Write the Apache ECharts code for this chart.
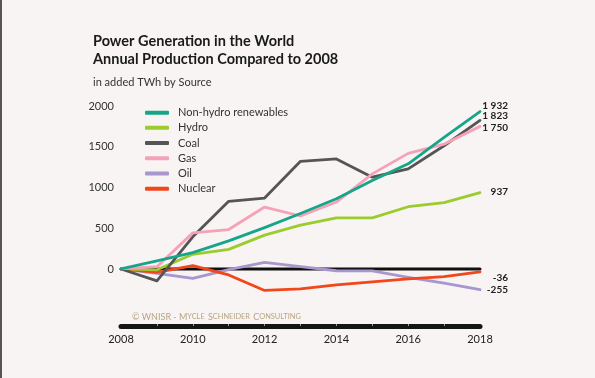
<!DOCTYPE html>
<html><head><meta charset="utf-8">
<script src="https://cdn.jsdelivr.net/npm/echarts@6/dist/echarts.min.js"></script>
<style>html,body{margin:0;padding:0;background:#f7f4f3}#c{width:595px;height:378px}</style>
</head><body><div id="c"></div>
<script>
const years = [2008,2009,2010,2011,2012,2013,2014,2015,2016,2017,2018];
const renewables = [0,100,200,345,508,680,862,1085,1290,1614,1932];
const hydro = [0,-10,180,240,415,537,626,626,764,813,937];
const coal = [0,-146,395,830,870,1321,1350,1126,1228,1512,1823];
const gas = [0,28,443,484,760,650,821,1167,1419,1532,1750];
const oil = [0,-55,-116,-8,81,28,-22,-24,-103,-175,-255];
const nuclear = [0,-42,40,-73,-264,-244,-195,-158,-122,-93,-36];
const zeroLine = [0,0,0,0,0,0,0,0,0,0,0];
const yTickLabels = [0,500,1000,1500,2000];
const xTickLabels = [2008,2010,2012,2014,2016,2018];
const endText = {renew:'1 932', hydro:'937', coal:'1 823', gas:'1 750', oil:'-255', nuclear:'-36'};

const pair = arr => arr.map((v,i)=>[years[i], v]);
const FONT = 'Lato, "Open Sans", sans-serif';

function mk(name, data, color, lbl, dy, z) {
  return {
    name, type:'line', data: pair(data), symbol:'none', z: z,
    lineStyle:{color, width:2.8, cap:'round', join:'round'},
    itemStyle:{color},
    endLabel:{show:true, formatter: lbl, align:'right', offset:[28, dy], distance:0,
      fontFamily: FONT, fontWeight:'bold', fontSize:10, color:'#222'}
  };
}

const chart = echarts.init(document.getElementById('c'), null, {renderer:'canvas'});
chart.setOption({
  backgroundColor:'#f7f4f3',
  animation:false,
  title:[
    {text:'Power Generation in the World\nAnnual Production Compared to 2008', left:88, top:28,
     textStyle:{fontFamily:FONT, fontWeight:'bold', fontSize:14.5, color:'#1a1a1a', lineHeight:17.5}},
    {text:'in added TWh by Source', left:88, top:72,
     textStyle:{fontFamily:FONT, fontWeight:'normal', fontSize:11, color:'#333'}}
  ],
  legend:{
    orient:'vertical', left:140, top:101, itemWidth:24, itemHeight:4, itemGap:1.9, icon:'roundRect',
    textStyle:{fontFamily:FONT, fontSize:11, color:'#333', padding:[0,0,0,4], lineHeight:13.3},
    data:['Non-hydro renewables','Hydro','Coal','Gas','Oil','Nuclear']
  },
  grid:{left:121, right:115, top:106, bottom:52, containLabel:false},
  xAxis:{
    type:'value', min:2008, max:2018, interval:1,
    axisLine:{show:true, onZero:false, lineStyle:{color:'#151515', width:5, cap:'round'}},
    axisTick:{show:true, inside:true, length:2, lineStyle:{color:'#9a9a9a', width:1}, customValues:[2009,2010,2011,2012,2013,2014,2015,2016,2017]},
    axisLabel:{customValues:xTickLabels, formatter:v=>String(v), fontFamily:FONT, fontSize:11, color:'#222', margin:8},
    splitLine:{show:false}
  },
  yAxis:{
    type:'value', min:-700, max:2000, interval:100,
    axisLine:{show:false}, axisTick:{show:false}, splitLine:{show:false},
    axisLabel:{customValues:yTickLabels, formatter:v=>String(v), fontFamily:FONT, fontSize:11, color:'#333', margin:7}
  },
  graphic:[
    {type:'rect', shape:{x:0,y:0,width:2,height:378}, style:{fill:'#555'}},
    {type:'text', left:132, top:311, style:{
      text:'{a|© WNISR - M}{b|YCLE} {a|S}{b|CHNEIDER} {a|C}{b|ONSULTING}',
      rich:{a:{fontSize:9, fill:'#b7a582', fontFamily:FONT}, b:{fontSize:7.4, fill:'#b7a582', fontFamily:FONT}}
    }}
  ],
  series:[
    {name:'zero', type:'line', data:pair(zeroLine), symbol:'none', z:1, silent:true,
     lineStyle:{color:'#111', width:3, cap:'round'}, legendHoverLink:false},
    mk('Oil', oil, '#a996cf', endText.oil, 0, 2),
    mk('Nuclear', nuclear, '#f2461b', endText.nuclear, 6, 3),
    mk('Hydro', hydro, '#9ccb2e', endText.hydro, -1, 4),
    mk('Coal', coal, '#555555', endText.coal, -5, 5),
    mk('Gas', gas, '#f5a2b9', endText.gas, 1, 6),
    mk('Non-hydro renewables', renewables, '#17a589', endText.renew, -6, 7)
  ]
});
</script></body></html>
